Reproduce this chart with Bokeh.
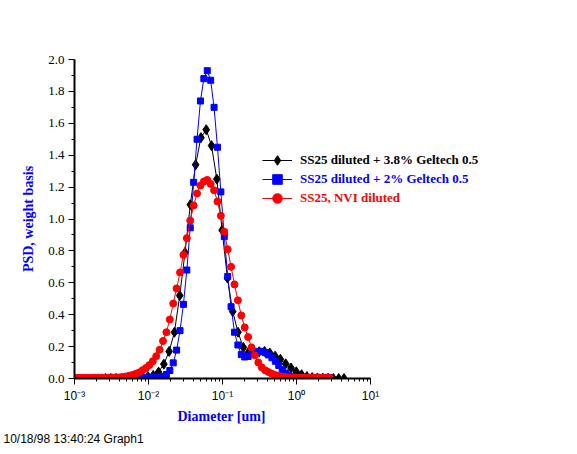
from bokeh.plotting import figure
from bokeh.models import Range1d, FixedTicker, Legend, LegendItem, Title
from bokeh.embed import file_html
from bokeh.resources import INLINE

# ---- data ----
diam_fine_um = [0.001000, 0.001112, 0.001236, 0.001374, 0.001528, 0.001698, 0.001888, 0.002099, 0.002333, 0.002594,
                0.002884, 0.003206, 0.003565, 0.003963, 0.004406, 0.004898, 0.005445, 0.006053, 0.006730, 0.007482,
                0.008318, 0.009247, 0.01028, 0.01143, 0.01271, 0.01413, 0.01570, 0.01746, 0.01941, 0.02158,
                0.02399, 0.02667, 0.02965, 0.03296, 0.03664, 0.04074, 0.04529, 0.05035, 0.05598, 0.06223,
                0.06918, 0.07691, 0.08551, 0.09506, 0.1057, 0.1175, 0.1306, 0.1452, 0.1614, 0.1795,
                0.1995, 0.2218, 0.2466, 0.2742, 0.3048, 0.3388, 0.3767, 0.4188, 0.4656, 0.5176,
                0.5754, 0.6397, 0.7112, 0.7907, 0.8790, 0.9772, 1.086, 1.208, 1.343, 1.493,
                1.660, 1.845, 2.051, 2.280, 2.535, 2.818]

psd_nvi = [0.004, 0.004, 0.004, 0.004, 0.004, 0.004, 0.005, 0.005, 0.005, 0.005,
           0.005, 0.006, 0.006, 0.007, 0.008, 0.012, 0.017, 0.022, 0.029, 0.038,
           0.052, 0.066, 0.084, 0.108, 0.140, 0.180, 0.235, 0.290, 0.370, 0.470,
           0.565, 0.665, 0.775, 0.880, 0.990, 1.085, 1.160, 1.210, 1.235, 1.245,
           1.220, 1.180, 1.110, 1.020, 0.920, 0.810, 0.700, 0.590, 0.490, 0.395,
           0.320, 0.260, 0.195, 0.145, 0.100, 0.070, 0.052, 0.040, 0.030, 0.022,
           0.016, 0.012, 0.009, 0.007, 0.006, 0.005, 0.005, 0.005, 0.005, 0.005,
           0.005, 0.005, 0.005, 0.005, 0.005, 0.005]

psd_geltech_2 = [0.001, 0.001, 0.001, 0.001, 0.001, 0.001, 0.001, 0.001, 0.001, 0.001,
                 0.001, 0.001, 0.001, 0.001, 0.001, 0.001, 0.001, 0.001, 0.001, 0.001,
                 0.002, 0.003, 0.004, 0.005, 0.006, 0.008, 0.012, 0.025, 0.050, 0.098,
                 0.178, 0.300, 0.465, 0.680, 0.945, 1.230, 1.500, 1.740, 1.880, 1.930,
                 1.870, 1.700, 1.450, 1.170, 0.890, 0.640, 0.450, 0.290, 0.210, 0.150,
                 0.135, 0.138, 0.152, 0.165, 0.170, 0.170, 0.162, 0.148, 0.130, 0.108,
                 0.082, 0.055, 0.035, 0.020, 0.012, 0.008, 0.005, 0.005, 0.005, 0.005,
                 0.005, 0.005, 0.005, 0.005, 0.005, 0.005]

diam_coarse_um = [0.002628, 0.003099, 0.003655, 0.004310, 0.005082, 0.005993, 0.007068, 0.008335, 0.009826, 0.01159,
                  0.01367, 0.01612, 0.01901, 0.02241, 0.02642, 0.03116, 0.03675, 0.04334, 0.05110, 0.06026,
                  0.07107, 0.08381, 0.09881, 0.1165, 0.1374, 0.1620, 0.1911, 0.2253, 0.2657, 0.3133,
                  0.3695, 0.4357, 0.5138, 0.6059, 0.7145, 0.8426, 0.9936, 1.172, 1.382, 1.629,
                  1.921, 2.266, 2.672, 3.151, 3.715, 4.382]

psd_geltech_38 = [0.0, 0.0, 0.0, 0.002, 0.003, 0.004, 0.006, 0.009, 0.013, 0.020,
                  0.040, 0.090, 0.170, 0.290, 0.520, 0.790, 1.090, 1.340, 1.510, 1.560,
                  1.460, 1.250, 0.930, 0.630, 0.420, 0.290, 0.195, 0.165, 0.165, 0.168,
                  0.170, 0.160, 0.140, 0.120, 0.092, 0.066, 0.042, 0.024, 0.012, 0.006,
                  0.003, 0.002, 0.001, 0.0, 0.0, 0.0]

series_labels = ["SS25 diluted + 3.8% Geltech 0.5",
                 "SS25 diluted + 2% Geltech 0.5",
                 "SS25, NVI diluted"]

y_ticks = [0.0, 0.2, 0.4, 0.6, 0.8, 1.0, 1.2, 1.4, 1.6, 1.8, 2.0]
y_tick_labels = ["0.0", "0.2", "0.4", "0.6", "0.8", "1.0", "1.2", "1.4", "1.6", "1.8", "2.0"]
y_minor = [0.1, 0.3, 0.5, 0.7, 0.9, 1.1, 1.3, 1.5, 1.7, 1.9]
x_ticks = [0.001, 0.01, 0.1, 1.0, 10.0]
x_tick_labels = ["10\u207b\u00b3", "10\u207b\u00b2", "10\u207b\u00b9", "10\u2070", "10\u00b9"]
x_minor = [m * d for d in [0.001, 0.01, 0.1, 1.0] for m in range(2, 10)]

x_title = "Diameter [um]"
y_title = "PSD, weight basis"
footer_text = "10/18/98 13:40:24 Graph1"

# ---- layout geometry (pixels) ----
W, H = 577, 454
left, top, right_edge, bottom_edge = 74, 59, 507, 378   # frame box
axis_right = 370                                         # where 10^1 sits
frame_w = right_edge - left
x_end = 10 ** (-3 + 4 * frame_w / (axis_right - left))  # room on the right for the legend

p = figure(width=W, height=H, x_axis_type="log",
           x_range=Range1d(0.001, x_end), y_range=Range1d(0.0, 2.0),
           output_backend="svg", toolbar_location=None,
           min_border_left=left, min_border_right=W - right_edge,
           min_border_top=top, min_border_bottom=H - bottom_edge)
p.outline_line_color = None
p.xgrid.visible = False
p.ygrid.visible = False
p.background_fill_color = "white"
p.border_fill_color = "white"

for ax in (p.xaxis[0], p.yaxis[0]):
    ax.axis_line_width = 2
    ax.axis_line_color = "black"
    ax.major_tick_in = 0
    ax.major_tick_out = 6
    ax.minor_tick_in = 0
    ax.minor_tick_out = 3
    ax.major_tick_line_color = "black"
    ax.minor_tick_line_color = "black"
    ax.major_label_text_color = "black"
    ax.axis_label_text_color = "blue"
    ax.axis_label_text_font = "Liberation Serif"
    ax.axis_label_text_font_style = "bold"
    ax.axis_label_text_font_size = "14px"

p.yaxis.ticker = FixedTicker(ticks=y_ticks, minor_ticks=y_minor)
p.yaxis.major_label_overrides = dict(zip(y_ticks, y_tick_labels))
p.yaxis.major_label_text_font = "Liberation Serif"
p.yaxis.major_label_text_font_size = "13px"
p.yaxis.major_label_standoff = 4
p.yaxis.axis_label = y_title
p.yaxis.axis_label_standoff = 9

p.xaxis.bounds = (0.001, 10.0)
p.xaxis.ticker = FixedTicker(ticks=x_ticks, minor_ticks=x_minor)
p.xaxis.major_label_overrides = dict(zip(x_ticks, x_tick_labels))
p.xaxis.major_label_text_font = "Liberation Sans"
p.xaxis.major_label_text_font_size = "12px"
p.xaxis.major_label_standoff = 4

# x-axis title placed under the drawn axis (not the wider frame)
x_title_obj = Title(text=x_title, align="left", offset=103, standoff=2,
                    text_font="Liberation Serif", text_font_style="bold",
                    text_font_size="14px", text_color="blue")
p.add_layout(x_title_obj, "below")

# series
l1 = p.line(diam_coarse_um, psd_geltech_38, line_color="black", line_width=1)
s1 = p.scatter(diam_coarse_um, psd_geltech_38, marker="diamond", size=10,
               fill_color="black", line_color="black")
l2 = p.line(diam_fine_um, psd_geltech_2, line_color="#0000ff", line_width=1)
s2 = p.scatter(diam_fine_um, psd_geltech_2, marker="square", size=6,
               fill_color="#0000ff", line_color="#0000ff")
l3 = p.line(diam_fine_um, psd_nvi, line_color="#ff0000", line_width=1)
s3 = p.scatter(diam_fine_um, psd_nvi, marker="circle", size=7,
               fill_color="#ff0000", line_color="#ff0000")

# legends (one per series so each label keeps its colour)
legend_rows = [(series_labels[0], [l1, s1], "black", 206),
               (series_labels[1], [l2, s2], "#0000ff", 187),
               (series_labels[2], [l3, s3], "#ff0000", 168)]
for text, rends, col, ypos in legend_rows:
    lg = Legend(items=[LegendItem(label=text, renderers=rends)],
                location=(188, ypos), padding=0, margin=0, spacing=0,
                glyph_width=30, glyph_height=24, label_height=24, label_standoff=8,
                label_text_font="Liberation Serif", label_text_font_style="bold",
                label_text_font_size="13px", label_text_color=col,
                border_line_color=None, background_fill_alpha=0)
    p.add_layout(lg)

footer = Title(text=footer_text, align="left", offset=3 - left,
               text_font="Liberation Sans", text_font_style="normal",
               text_font_size="12px", text_color="black")
p.add_layout(footer, "below")

open("out.html", "w").write(file_html(p, INLINE))
